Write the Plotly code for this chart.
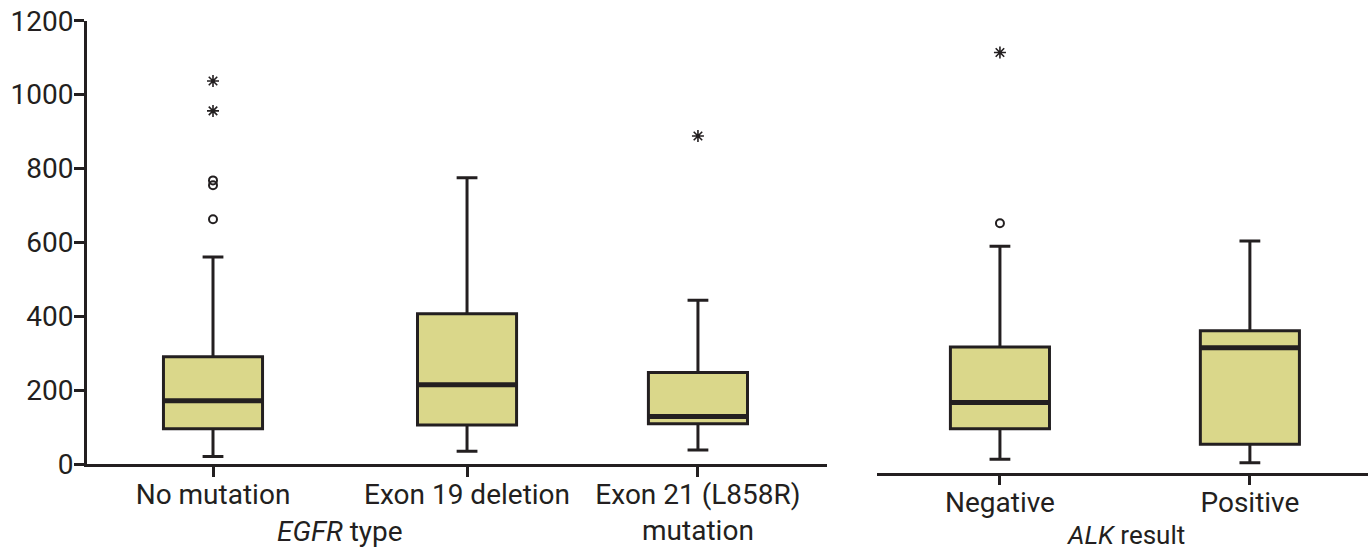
import plotly.graph_objects as go

# ---------------- data ----------------
egfr_categories = ["No mutation", "Exon 19 deletion", "Exon 21 (L858R)<br>mutation"]
egfr_q1 = [96, 106, 110]
egfr_median = [172, 215, 129]
egfr_q3 = [291, 407, 248]
egfr_lower = [21, 35, 39]
egfr_upper = [561, 775, 444]
egfr_circle_cat = ["No mutation", "No mutation", "No mutation"]
egfr_circle_val = [663, 755, 768]
egfr_star_cat = ["No mutation", "No mutation", "Exon 21 (L858R)<br>mutation"]
egfr_star_val = [956, 1037, 888]

alk_categories = ["Negative", "Positive"]
alk_q1 = [96, 54]
alk_median = [167, 315]
alk_q3 = [317, 361]
alk_lower = [14, 4]
alk_upper = [590, 604]
alk_circle_cat = ["Negative"]
alk_circle_val = [652]
alk_star_cat = ["Negative"]
alk_star_val = [1114]

y_ticks = [0, 200, 400, 600, 800, 1000, 1200]

# ---------------- layout helpers (positions / styles) ----------------
egfr_pos = [0.0, 1.0, 1.909]
alk_pos = [0.0, 0.984]
BOX_W = 0.39
FILL = "#DAD78A"
INK = "#231F20"
FONT = "Roboto"

def pos_of(cats, cat_list, pos_list):
    return [pos_list[cat_list.index(c)] for c in cats]

fig = go.Figure()

def add_panel(cats, pos, q1, med, q3, lo, hi, ccat, cval, scat, sval, xa, ya):
    # main boxes
    fig.add_trace(go.Box(
        x=pos, q1=q1, median=med, q3=q3, lowerfence=lo, upperfence=hi,
        width=BOX_W, whiskerwidth=0.21, fillcolor=FILL,
        line=dict(color=INK, width=3), boxpoints=False,
        xaxis=xa, yaxis=ya, hoverinfo="skip"))
    # thicker median line overlay
    fig.add_trace(go.Box(
        x=pos, q1=med, median=med, q3=med, lowerfence=med, upperfence=med,
        width=BOX_W, whiskerwidth=0, fillcolor="rgba(0,0,0,0)",
        line=dict(color=INK, width=5), boxpoints=False,
        xaxis=xa, yaxis=ya, hoverinfo="skip"))
    # outliers
    fig.add_trace(go.Scatter(
        x=pos_of(ccat, cats, pos), y=cval, mode="markers",
        marker=dict(symbol="circle-open", size=8, color=INK, line=dict(width=2, color=INK)),
        xaxis=xa, yaxis=ya, hoverinfo="skip"))
    fig.add_trace(go.Scatter(
        x=pos_of(scat, cats, pos), y=sval, mode="markers",
        marker=dict(symbol="asterisk-open", size=10, color=INK, line=dict(width=1.6, color=INK)),
        xaxis=xa, yaxis=ya, hoverinfo="skip"))

add_panel(egfr_categories, egfr_pos, egfr_q1, egfr_median, egfr_q3, egfr_lower, egfr_upper,
          egfr_circle_cat, egfr_circle_val, egfr_star_cat, egfr_star_val, "x", "y")
add_panel(alk_categories, alk_pos, alk_q1, alk_median, alk_q3, alk_lower, alk_upper,
          alk_circle_cat, alk_circle_val, alk_star_cat, alk_star_val, "x2", "y2")

W, H = 1368, 550
axis_font = dict(family=FONT, size=28, color=INK)

fig.update_layout(
    width=W, height=H, margin=dict(l=0, r=0, t=0, b=0, autoexpand=False),
    paper_bgcolor="white", plot_bgcolor="white", showlegend=False,
    boxgap=0, boxgroupgap=0, boxmode="overlay",
    font=dict(family=FONT, color=INK),
    xaxis=dict(domain=[87 / W, 827 / W], range=[-0.496, 2.417], anchor="y",
               tickmode="array", tickvals=egfr_pos, ticktext=egfr_categories,
               ticks="outside", ticklen=10, tickwidth=2.5, tickcolor=INK,
               showline=True, linewidth=2.5, linecolor=INK, showgrid=False,
               zeroline=False, tickfont=axis_font, automargin=False,
               ticklabelstandoff=-7),
    yaxis=dict(domain=[(H - 464.3) / H, (H - 20.7) / H], range=[0, 1200], anchor="x",
               tickmode="array", tickvals=y_ticks,
               ticks="outside", ticklen=10, tickwidth=2.5, tickcolor=INK,
               showline=True, linewidth=3, linecolor=INK, showgrid=False,
               zeroline=False, tickfont=axis_font, automargin=False,
               ticklabelstandoff=-5),
    xaxis2=dict(domain=[877 / W, 1.0], range=[-0.484, 1.449], anchor="y2",
                tickmode="array", tickvals=alk_pos, ticktext=alk_categories,
                ticks="outside", ticklen=10, tickwidth=2.5, tickcolor=INK,
                showline=True, linewidth=2.5, linecolor=INK, showgrid=False,
                zeroline=False, tickfont=axis_font, automargin=False,
                ticklabelstandoff=-7),
    yaxis2=dict(domain=[(H - 472.7) / H, (H - 20.7) / H], range=[-22.72, 1200], anchor="x2",
                visible=False, automargin=False),
)

fig.add_annotation(text="<i>EGFR</i> type", xref="paper", yref="paper",
                   x=340 / W, y=(H - 531) / H, xanchor="center", yanchor="middle",
                   showarrow=False, font=dict(family=FONT, size=28, color=INK))
fig.add_annotation(text="<i>ALK</i> result", xref="paper", yref="paper",
                   x=1125 / W, y=(H - 535) / H, xanchor="center", yanchor="middle",
                   showarrow=False, font=dict(family=FONT, size=26, color=INK))

fig.write_html("out.html", post_script="document.body.style.margin='0px';",
               config={"displayModeBar": False})
